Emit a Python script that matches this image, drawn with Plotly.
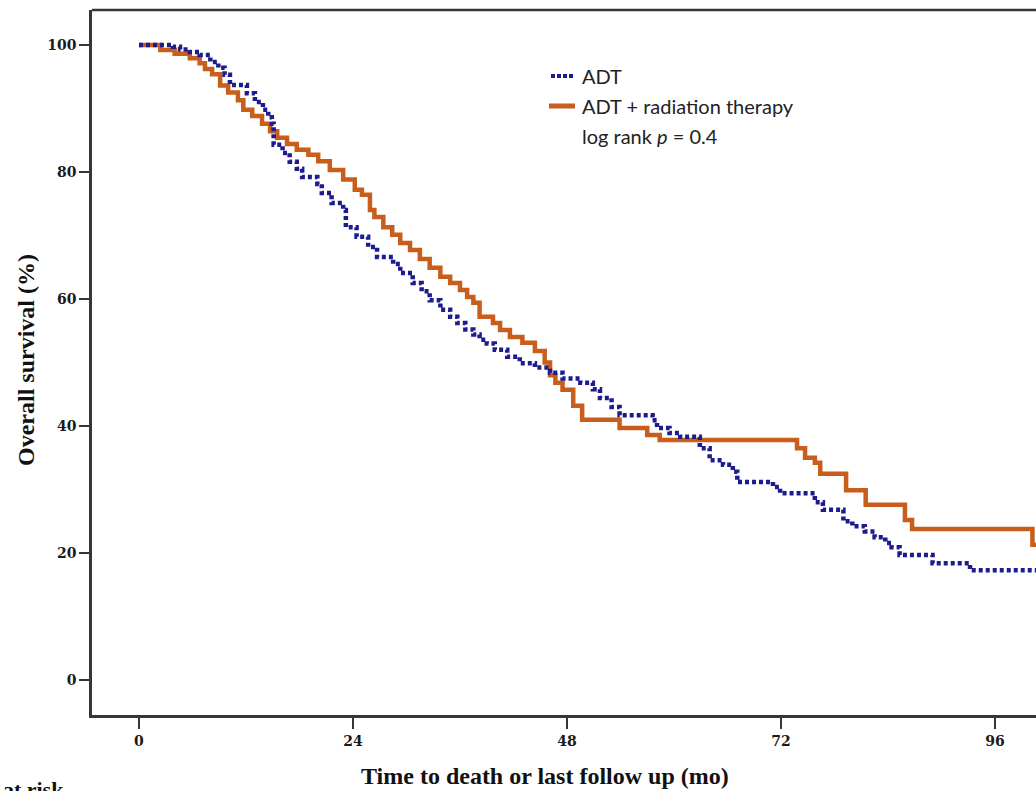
import plotly.graph_objects as go

# Kaplan-Meier step data: month of each drop and overall survival (%) after it
adt_time = [0, 3.8, 4.6, 5.7, 6.8, 8.0, 8.9, 9.6, 10.2, 12.1, 13.0, 13.9, 14.5, 14.9,
            15.1, 16.1, 16.9, 17.7, 18.3, 20.0, 20.5, 21.6, 22.9, 23.2, 24.4, 25.7,
            26.7, 28.5, 29.3, 30.7, 31.7, 32.6, 33.8, 34.9, 35.7, 36.6, 37.5, 38.2,
            39.0, 39.9, 41.3, 42.7, 44.4, 46.1, 47.5, 49.5, 50.9, 51.7, 53.0, 53.9,
            57.6, 58.1, 59.5, 60.7, 62.9, 64.0, 65.5, 66.6, 67.1, 71.1, 71.9, 75.8,
            76.7, 79.0, 80.0, 81.4, 82.5, 83.7, 84.4, 85.3, 89.0, 93.2]
adt_surv = [100, 99.7, 99.3, 98.9, 98.4, 97.3, 96.4, 95.3, 93.7, 92.4, 91.0, 89.8, 88.6, 87.6,
            84.3, 83.0, 81.6, 80.5, 79.2, 78.1, 76.7, 75.1, 74.0, 71.3, 69.8, 68.2,
            66.6, 65.5, 64.1, 62.5, 61.2, 59.8, 58.3, 57.2, 56.2, 55.2, 54.4, 53.6,
            53.0, 52.0, 50.9, 49.9, 49.2, 48.4, 47.5, 46.8, 45.8, 44.4, 43.0, 41.7,
            40.9, 39.7, 38.9, 38.3, 36.5, 34.6, 33.9, 32.8, 31.2, 30.4, 29.4, 28.0,
            26.8, 25.0, 24.2, 23.4, 22.5, 21.6, 20.9, 19.7, 18.4, 17.3]

adt_rt_time = [0, 2.4, 4.0, 5.7, 6.8, 7.4, 8.2, 9.1, 10.0, 11.1, 11.7, 12.7, 13.8, 14.7,
               15.5, 16.6, 17.7, 19.0, 20.1, 21.4, 22.9, 24.2, 25.0, 25.9, 26.4, 27.4,
               28.4, 29.3, 30.4, 31.5, 32.6, 33.8, 34.9, 36.0, 36.8, 37.5, 38.2, 39.7,
               40.5, 41.6, 43.0, 44.4, 45.5, 46.1, 46.7, 47.5, 48.7, 49.7, 53.9, 57.0,
               58.4, 73.8, 74.7, 75.8, 76.4, 79.3, 81.5, 85.9, 86.7, 100.2]
adt_rt_surv = [100, 99.2, 98.6, 97.9, 97.1, 96.2, 95.4, 93.6, 92.5, 91.3, 89.8, 88.8, 87.6, 86.4,
               85.4, 84.4, 83.5, 82.7, 81.7, 80.3, 78.8, 77.2, 76.4, 74.0, 72.9, 71.3,
               70.1, 68.8, 67.7, 66.3, 64.9, 63.5, 62.5, 61.4, 60.3, 59.4, 57.2, 56.2,
               55.1, 54.0, 53.1, 51.8, 50.0, 48.0, 46.8, 45.7, 43.2, 41.0, 39.7, 38.6,
               37.8, 36.5, 35.0, 34.2, 32.5, 29.9, 27.6, 25.2, 23.8, 21.3]

last_follow_up = 103  # months; curves run past the right edge of the axis

x_ticks = [0, 24, 48, 72, 96]
y_ticks = [0, 20, 40, 60, 80, 100]

W, H = 1036, 791
ML, MT, MB = 92, 10, 76
PW, PH = W - ML, H - MT - MB

AXIS = "#363636"
NAVY = "#1c1c8f"
ORANGE = "#c85d1c"
SERIF = "Liberation Serif"
SANS = "Lato"


def px_x(p):
    return (p - ML) / PW


def px_y(p):
    return (MT + PH - p) / PH


fig = go.Figure()
fig.add_trace(go.Scatter(
    x=adt_rt_time + [last_follow_up], y=adt_rt_surv + [adt_rt_surv[-1]],
    mode="lines", line=dict(shape="hv", color=ORANGE, width=4.5),
    name="ADT + radiation therapy", showlegend=False, cliponaxis=True))
fig.add_trace(go.Scatter(
    x=adt_time + [last_follow_up], y=adt_surv + [adt_surv[-1]],
    mode="lines", line=dict(shape="hv", color=NAVY, width=4.5, dash="4px,3px"),
    name="ADT", showlegend=False, cliponaxis=True))

tick_font = dict(family="DejaVu Serif", size=14, color="#1a1a1a", weight="bold")
fig.update_xaxes(range=[-5.27, 100.6], tickvals=x_ticks, ticks="outside", ticklen=11,
                 tickwidth=2, tickcolor=AXIS, showline=True, linecolor=AXIS, linewidth=2.5,
                 mirror=False, showgrid=False, zeroline=False, tickfont=tick_font)
fig.update_yaxes(range=[-5.5, 105.5], tickvals=y_ticks, ticks="outside", ticklen=10,
                 tickwidth=2, tickcolor=AXIS, showline=True, linecolor=AXIS, linewidth=2.5,
                 mirror=False, showgrid=False, zeroline=False, tickfont=tick_font)

shapes = [
    # top border of the frame
    dict(type="line", xref="paper", yref="paper", x0=0, x1=1.01, y0=1, y1=1,
         line=dict(color=AXIS, width=2.5)),
    # legend keys
    dict(type="line", xref="paper", yref="paper", x0=px_x(551), x1=px_x(575),
         y0=px_y(76), y1=px_y(76), line=dict(color=NAVY, width=4, dash="4px,2px")),
    dict(type="line", xref="paper", yref="paper", x0=px_x(549), x1=px_x(575),
         y0=px_y(106), y1=px_y(106), line=dict(color=ORANGE, width=5)),
]

legend_font = dict(family=SANS, size=20, color="#222")
annotations = [
    dict(text="ADT", x=px_x(580), y=px_y(76), xanchor="left", yanchor="middle"),
    dict(text="ADT + radiation therapy", x=px_x(580), y=px_y(106), xanchor="left",
         yanchor="middle"),
    dict(text="log rank <i>p</i> = 0.4", x=px_x(580), y=px_y(136), xanchor="left",
         yanchor="middle"),
]
for a in annotations:
    a.update(xref="paper", yref="paper", showarrow=False, font=legend_font)

title_font = dict(family=SERIF, size=24, color="#111", weight="bold")
annotations += [
    dict(text="Time to death or last follow up (mo)", x=px_x(545), y=px_y(776),
         xanchor="center", yanchor="middle", font=title_font),
    dict(text="Overall survival (%)", x=px_x(26), y=px_y(360), textangle=-90,
         xanchor="center", yanchor="middle", font=title_font),
    dict(text="No. at risk", x=px_x(66), y=px_y(775), xanchor="right", yanchor="top",
         font=dict(family=SERIF, size=22, color="#111", weight="bold")),
]
for a in annotations:
    a.update(xref="paper", yref="paper", showarrow=False)

fig.update_layout(
    width=W, height=H, margin=dict(l=ML, r=0, t=MT, b=MB, pad=0),
    paper_bgcolor="white", plot_bgcolor="white",
    shapes=shapes, annotations=annotations, showlegend=False,
)

fig.write_html("out.html")
